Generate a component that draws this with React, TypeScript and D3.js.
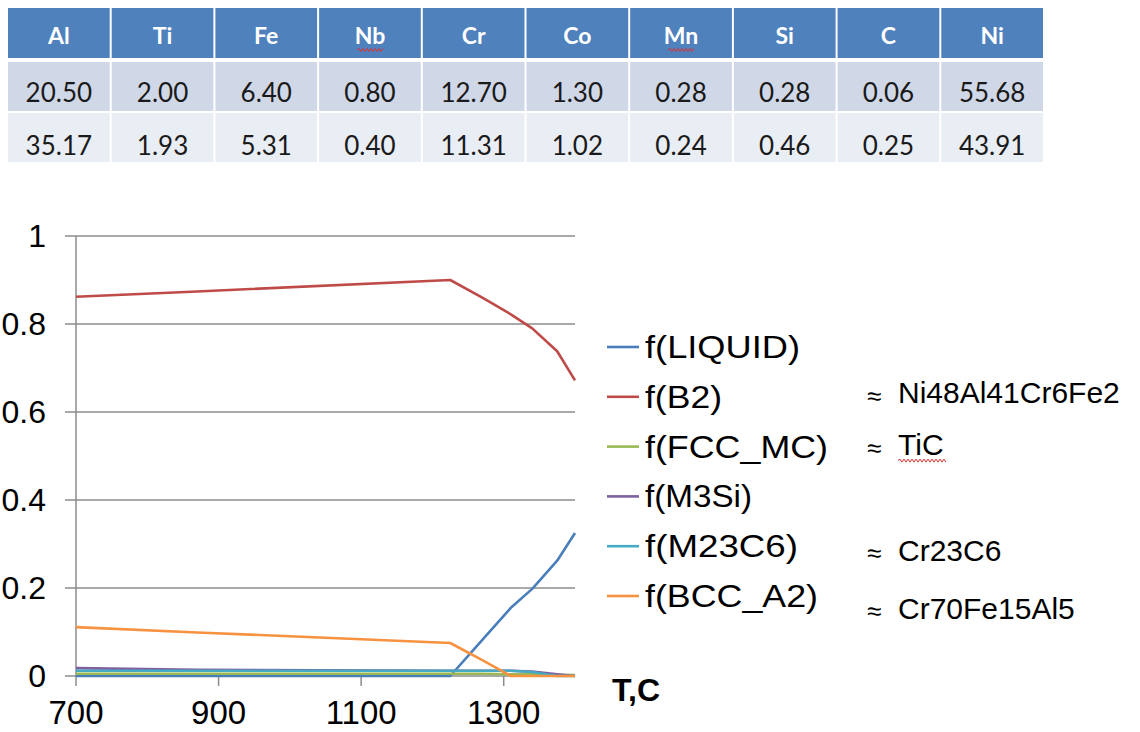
import React from "react";
import * as d3 from "d3";

// ---- Table data ----
const elements = ["Al", "Ti", "Fe", "Nb", "Cr", "Co", "Mn", "Si", "C", "Ni"];
const rowWeight = ["20.50", "2.00", "6.40", "0.80", "12.70", "1.30", "0.28", "0.28", "0.06", "55.68"];
const rowAtomic = ["35.17", "1.93", "5.31", "0.40", "11.31", "1.02", "0.24", "0.46", "0.25", "43.91"];
const spellFlagged = ["Nb", "Mn"];

// ---- Chart data ----
const temps = [700, 870, 1225, 1270, 1310, 1340, 1375, 1400];
const fLiquid = [0, 0, 0, 0.082, 0.155, 0.198, 0.262, 0.325];
const fB2 = [0.862, 0.874, 0.9, 0.86, 0.822, 0.79, 0.738, 0.672];
const fFccMc = [0.005, 0.005, 0.005, 0.005, 0.004, 0.004, 0.003, 0.002];
const fM3Si = [0.018, 0.014, 0.012, 0.012, 0.012, 0.01, 0.004, 0];
const fM23C6 = [0.012, 0.012, 0.012, 0.012, 0.012, 0.009, 0, 0];
const fBccA2 = [0.111, 0.099, 0.075, 0.036, 0, 0, 0, 0];

const seriesNames = ["f(LIQUID)", "f(B2)", "f(FCC_MC)", "f(M3Si)", "f(M23C6)", "f(BCC_A2)"];
const seriesValues = [fLiquid, fB2, fFccMc, fM3Si, fM23C6, fBccA2];
const seriesColors = ["#4A7EBB", "#BE4B48", "#98B954", "#7D60A0", "#46AAC5", "#F69240"];
const legendWidths = [155, 77, 183, 107, 153, 173];

const annotations = ["", "Ni48Al41Cr6Fe2", "TiC", "", "Cr23C6", "Cr70Fe15Al5"];

const xTicks = [700, 900, 1100, 1300];
const yTicks = [0, 0.2, 0.4, 0.6, 0.8, 1];
const yTickLabels = ["0", "0.2", "0.4", "0.6", "0.8", "1"];
const xAxisTitle = "T,C";

const W = 1140;
const H = 732;

function wavy(x0: number, x1: number, y: number) {
  let d = `M${x0},${y}`;
  let up = true;
  for (let x = x0 + 2; x <= x1; x += 2) {
    d += ` L${x},${y + (up ? -1.5 : 1.5)}`;
    up = !up;
  }
  return d;
}

export default function App() {
  const x = d3.scaleLinear().domain([700, 1400]).range([76, 575]);
  const y = d3.scaleLinear().domain([0, 1]).range([676, 236]);
  const line = d3
    .line<[number, number]>()
    .x((d) => x(d[0]))
    .y((d) => y(d[1]));

  // table layout
  const tX0 = 8;
  const tX1 = 1045;
  const colW = (tX1 - tX0) / elements.length;
  const tableFont = "Lato, 'Open Sans', sans-serif";
  const chartFont = "'Liberation Sans', Arial, sans-serif";

  const legendY0 = 347;
  const legendStep = 49.8;
  const annYOffsets = [0, -4, -2, 0, 4, 12];

  return (
    <svg
      width={W}
      height={H}
      style={{ position: "absolute", left: 0, top: 0, background: "#fff" }}
    >
      {/* Table */}
      {elements.map((el, i) => {
        const cx = tX0 + i * colW;
        return (
          <g key={el}>
            <rect x={cx} y={8} width={colW - 2} height={50} fill="#4F81BD" />
            <rect x={cx} y={62} width={colW - 2} height={49} fill="#D0D8E8" />
            <rect x={cx} y={113} width={colW - 2} height={49} fill="#E9EDF4" />
            <text
              x={cx + colW / 2 - 1}
              y={35}
              fill="#fff"
              fontFamily={tableFont}
              fontWeight="bold"
              fontSize={23}
              textAnchor="middle"
              dominantBaseline="central"
            >
              {el}
            </text>
            {spellFlagged.includes(el) && (
              <path
                d={wavy(cx + colW / 2 - 14, cx + colW / 2 + 13, 50)}
                stroke="#E03030"
                strokeWidth={1}
                fill="none"
              />
            )}
            <text
              x={cx + colW / 2 - 1}
              y={92}
              fill="#1a1a1a"
              fontFamily={tableFont}
              fontSize={26}
              textAnchor="middle"
              dominantBaseline="central"
            >
              {rowWeight[i]}
            </text>
            <text
              x={cx + colW / 2 - 1}
              y={145}
              fill="#1a1a1a"
              fontFamily={tableFont}
              fontSize={26}
              textAnchor="middle"
              dominantBaseline="central"
            >
              {rowAtomic[i]}
            </text>
          </g>
        );
      })}

      {/* Gridlines */}
      {yTicks.map((t) => (
        <line
          key={"g" + t}
          x1={65}
          x2={575}
          y1={y(t)}
          y2={y(t)}
          stroke="#8C8C8C"
          strokeWidth={1.5}
        />
      ))}
      {/* Y axis */}
      <line x1={76} x2={76} y1={236} y2={676} stroke="#8C8C8C" strokeWidth={1.5} />
      {/* X ticks */}
      {xTicks.map((t) => (
        <line
          key={"xt" + t}
          x1={x(t)}
          x2={x(t)}
          y1={676}
          y2={686}
          stroke="#8C8C8C"
          strokeWidth={1.5}
        />
      ))}
      {/* Y tick labels */}
      {yTicks.map((t, i) => (
        <text
          key={"yl" + t}
          x={46}
          y={y(t)}
          fontFamily={chartFont}
          fontSize={32}
          textAnchor="end"
          dominantBaseline="central"
          fill="#000"
        >
          {yTickLabels[i]}
        </text>
      ))}
      {/* X tick labels */}
      {xTicks.map((t) => (
        <text
          key={"xl" + t}
          x={x(t)}
          y={712}
          fontFamily={chartFont}
          fontSize={33}
          textAnchor="middle"
          dominantBaseline="central"
          fill="#000"
        >
          {t}
        </text>
      ))}
      <text
        x={612}
        y={690}
        fontFamily={chartFont}
        fontSize={32}
        fontWeight="bold"
        dominantBaseline="central"
        fill="#000"
      >
        {xAxisTitle}
      </text>

      {/* Series */}
      {seriesValues.map((vals, si) => (
        <path
          key={"s" + si}
          d={line(temps.map((t, i) => [t, vals[i]] as [number, number])) || ""}
          fill="none"
          stroke={seriesColors[si]}
          strokeWidth={2.6}
          strokeLinejoin="round"
        />
      ))}

      {/* Legend */}
      {seriesNames.map((name, i) => {
        const ly = legendY0 + i * legendStep;
        return (
          <g key={"lg" + name}>
            <line
              x1={607}
              x2={639}
              y1={ly}
              y2={ly}
              stroke={seriesColors[i]}
              strokeWidth={2.6}
            />
            <text
              x={645}
              y={ly}
              fontFamily={chartFont}
              fontSize={32}
              dominantBaseline="central"
              textLength={legendWidths[i]}
              lengthAdjust="spacingAndGlyphs"
              fill="#000"
            >
              {name}
            </text>
            {annotations[i] && (
              <g>
                <text
                  x={867}
                  y={ly + annYOffsets[i] + 3}
                  fontFamily={chartFont}
                  fontSize={26}
                  dominantBaseline="central"
                  fill="#000"
                >
                  ≈
                </text>
                <text
                  x={898}
                  y={ly + annYOffsets[i]}
                  fontFamily={chartFont}
                  fontSize={30}
                  dominantBaseline="central"
                  fill="#000"
                >
                  {annotations[i]}
                </text>
                {annotations[i] === "TiC" && (
                  <path
                    d={wavy(898, 946, ly + annYOffsets[i] + 16)}
                    stroke="#E03030"
                    strokeWidth={1}
                    fill="none"
                  />
                )}
              </g>
            )}
          </g>
        );
      })}
    </svg>
  );
}
